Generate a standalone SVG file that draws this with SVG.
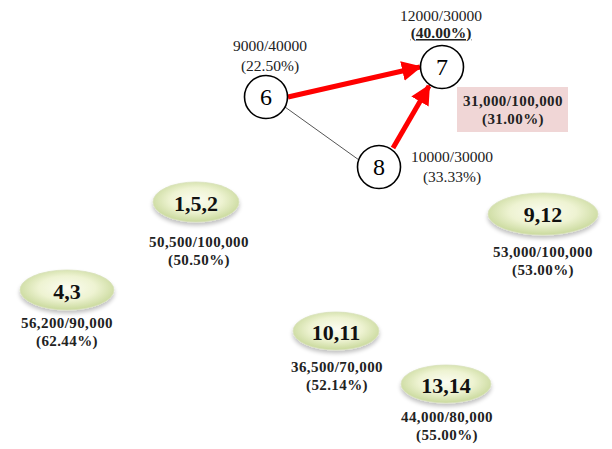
<svg xmlns="http://www.w3.org/2000/svg" width="612" height="449" viewBox="0 0 612 449">
  <style>
    .circ { fill: #ffffff; stroke: #000000; stroke-width: 1.6; }
    .clab { font-family: "Liberation Serif", "Times New Roman", serif; font-size: 24px; fill: #000; text-anchor: middle; }
    .note { font-family: "Liberation Serif", "Times New Roman", serif; font-size: 15.5px; fill: #222; text-anchor: middle; }
    .bnote { font-family: "Liberation Serif", "Times New Roman", serif; font-size: 15px; font-weight: bold; fill: #222; text-anchor: middle; letter-spacing: 0.4px; }
    .elab { font-family: "Liberation Serif", "Times New Roman", serif; font-size: 22px; font-weight: bold; fill: #111; text-anchor: middle; }
    .oval { fill: url(#ovalFill); stroke: #d9e2bd; stroke-width: 0.8; filter: url(#soft); }
    .red { stroke: #ff0000; stroke-width: 5; fill: none; marker-end: url(#redHead); }
    .thin { stroke: #555; stroke-width: 1; fill: none; }
  </style>
  <defs>
    <radialGradient id="ovalFill" cx="50%" cy="45%" r="55%">
      <stop offset="0%" stop-color="#fbfcf0"/>
      <stop offset="55%" stop-color="#eef3d2"/>
      <stop offset="100%" stop-color="#c9d99c"/>
    </radialGradient>
    <filter id="soft" x="-20%" y="-30%" width="140%" height="170%">
      <feGaussianBlur in="SourceAlpha" stdDeviation="2"/>
      <feOffset dx="0" dy="3" result="b"/>
      <feComponentTransfer><feFuncA type="linear" slope="0.25"/></feComponentTransfer>
      <feMerge><feMergeNode/><feMergeNode in="SourceGraphic"/></feMerge>
    </filter>
    <marker id="redHead" viewBox="0 0 10 10" refX="9" refY="5" markerWidth="4" markerHeight="4" orient="auto" markerUnits="strokeWidth">
      <path d="M0,0 L10,5 L0,10 z" fill="#ff0000"/>
    </marker>
  </defs>

  <rect width="612" height="449" fill="#ffffff"/>

  <!-- connectors -->
  <g id="connectors">
    <line class="thin" x1="285" y1="107" x2="359" y2="160"/>
    <line class="red" x1="288" y1="97" x2="420" y2="67"/>
    <line class="red" x1="393" y1="148" x2="429" y2="86"/>
  </g>

  <!-- circle nodes -->
  <g id="node-6">
    <circle class="circ" cx="266" cy="97" r="21.5"/>
    <text class="clab" x="266" y="105">6</text>
    <text class="note" x="270" y="51">9000/40000</text>
    <text class="note" x="270" y="71">(22.50%)</text>
  </g>
  <g id="node-7">
    <circle class="circ" cx="442" cy="67" r="21.5"/>
    <text class="clab" x="442" y="75">7</text>
    <text class="note" x="441" y="21">12000/30000</text>
    <text class="note" x="441" y="38" font-weight="bold" text-decoration="underline">(40.00%)</text>
  </g>
  <g id="node-8">
    <circle class="circ" cx="379" cy="167" r="21.5"/>
    <text class="clab" x="379" y="175">8</text>
    <text class="note" x="452" y="162">10000/30000</text>
    <text class="note" x="452" y="182">(33.33%)</text>
  </g>

  <!-- path total -->
  <g id="path-total">
    <rect x="457" y="87" width="111" height="45" fill="#f0d6d6"/>
    <text class="bnote" x="513" y="106">31,000/100,000</text>
    <text class="bnote" x="513" y="124">(31.00%)</text>
  </g>

  <!-- oval groups -->
  <g id="node-1-5-2">
    <ellipse class="oval" cx="196" cy="202" rx="43" ry="20"/>
    <text class="elab" x="196" y="211">1,5,2</text>
    <text class="bnote" x="199" y="247">50,500/100,000</text>
    <text class="bnote" x="199" y="265">(50.50%)</text>
  </g>
  <g id="node-4-3">
    <ellipse class="oval" cx="67" cy="290" rx="47" ry="20"/>
    <text class="elab" x="67" y="299">4,3</text>
    <text class="bnote" x="67" y="328">56,200/90,000</text>
    <text class="bnote" x="67" y="346">(62.44%)</text>
  </g>
  <g id="node-9-12">
    <ellipse class="oval" cx="543" cy="214" rx="55" ry="21"/>
    <text class="elab" x="543" y="222">9,12</text>
    <text class="bnote" x="543" y="257">53,000/100,000</text>
    <text class="bnote" x="543" y="275">(53.00%)</text>
  </g>
  <g id="node-10-11">
    <ellipse class="oval" cx="336" cy="331" rx="43" ry="19"/>
    <text class="elab" x="336" y="340">10,11</text>
    <text class="bnote" x="337" y="372">36,500/70,000</text>
    <text class="bnote" x="337" y="390">(52.14%)</text>
  </g>
  <g id="node-13-14">
    <ellipse class="oval" cx="446" cy="384" rx="45" ry="19"/>
    <text class="elab" x="446" y="393">13,14</text>
    <text class="bnote" x="447" y="422">44,000/80,000</text>
    <text class="bnote" x="447" y="440">(55.00%)</text>
  </g>
</svg>
